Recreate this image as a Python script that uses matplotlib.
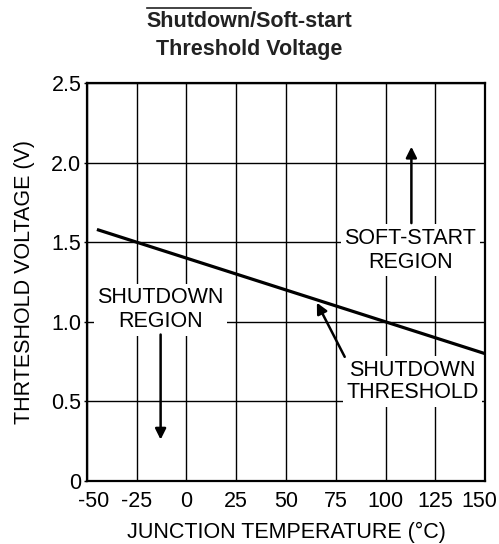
import matplotlib
matplotlib.use('Agg')
import matplotlib.pyplot as plt
from matplotlib.lines import Line2D
from matplotlib.transforms import ScaledTranslation

plt.rcParams['font.family'] = ['Liberation Sans', 'DejaVu Sans']

# data
temp = [-45, 150]
volt = [1.58, 0.80]
x_ticks = [-50, -25, 0, 25, 50, 75, 100, 125, 150]
x_labels = ['-50', '-25', '0', '25', '50', '75', '100', '125', '150']
y_ticks = [0, 0.5, 1.0, 1.5, 2.0, 2.5]
y_labels = ['0', '0.5', '1.0', '1.5', '2.0', '2.5']

fs = 15.5
fig = plt.figure(figsize=(4.99, 5.44), dpi=100)
ax = fig.add_axes([0.1743, 0.1158, 0.7977, 0.7316])

ax.plot(temp, volt, color='black', lw=2.3, zorder=3, solid_capstyle='butt')
ax.set_xlim(-50, 150)
ax.set_ylim(0, 2.5)
ax.set_xticks(x_ticks)
ax.set_xticklabels(x_labels)
ax.set_yticks(y_ticks)
ax.set_yticklabels(y_labels)
ax.grid(True, color='black', lw=1.0)
ax.tick_params(axis='x', length=0, labelsize=fs, pad=7)
ax.tick_params(axis='y', length=2, width=1.0, labelsize=fs, pad=2)
for s in ax.spines.values():
    s.set_linewidth(1.6)

# pull the end labels inward like the original
xl = ax.get_xticklabels()
xl[0].set_transform(xl[0].get_transform() + ScaledTranslation(0.07, 0, fig.dpi_scale_trans))
xl[-1].set_transform(xl[-1].get_transform() + ScaledTranslation(-0.06, 0, fig.dpi_scale_trans))

ax.set_xlabel('JUNCTION TEMPERATURE (°C)', fontsize=fs, labelpad=7)
ax.set_ylabel('THRTESHOLD VOLTAGE (V)', fontsize=fs, labelpad=12)

box = dict(facecolor='white', edgecolor='none', boxstyle='square,pad=0.15')
ax.text(112.5, 1.45, 'SOFT-START\nREGION', fontsize=fs, ha='center', va='center',
        bbox=box, zorder=4, linespacing=1.2)
ax.text(-13, 1.075, 'SHUTDOWN\nREGION', fontsize=fs, ha='center', va='center',
        bbox=box, zorder=4, linespacing=1.2)
ax.text(113.5, 0.625, 'SHUTDOWN\nTHRESHOLD', fontsize=fs, ha='center', va='center',
        bbox=box, zorder=4, linespacing=1.1)

arrow = dict(arrowstyle='-|>', color='black', lw=1.8, mutation_scale=16,
             shrinkA=0, shrinkB=0)
ax.annotate('', xy=(113, 2.10), xytext=(113, 1.62), arrowprops=arrow, zorder=5)
ax.annotate('', xy=(-13, 0.26), xytext=(-13, 0.92), arrowprops=arrow, zorder=5)
ax.annotate('', xy=(65.5, 1.12), xytext=(79.5, 0.78), arrowprops=arrow, zorder=5)

t1 = fig.text(0.5, 0.961, 'Shutdown/Soft-start', fontsize=15.5, fontweight='bold',
              ha='center', va='center', color='#222222')
fig.text(0.5, 0.909, 'Threshold Voltage', fontsize=15.5, fontweight='bold',
         ha='center', va='center', color='#222222')

# overline over "Shutdown"
fig.canvas.draw()
r = fig.canvas.get_renderer()
bb = t1.get_window_extent(r)
tmp = fig.text(0, 0, 'Shutdown', fontsize=15.5, fontweight='bold')
w = tmp.get_window_extent(r).width
tmp.remove()
W, H = fig.bbox.width, fig.bbox.height
yl = bb.y1 + 3
fig.add_artist(Line2D([bb.x0 / W, (bb.x0 + w) / W], [yl / H, yl / H],
                      transform=fig.transFigure, color='#222222', lw=1.2))

fig.savefig('out.png', dpi=100)
